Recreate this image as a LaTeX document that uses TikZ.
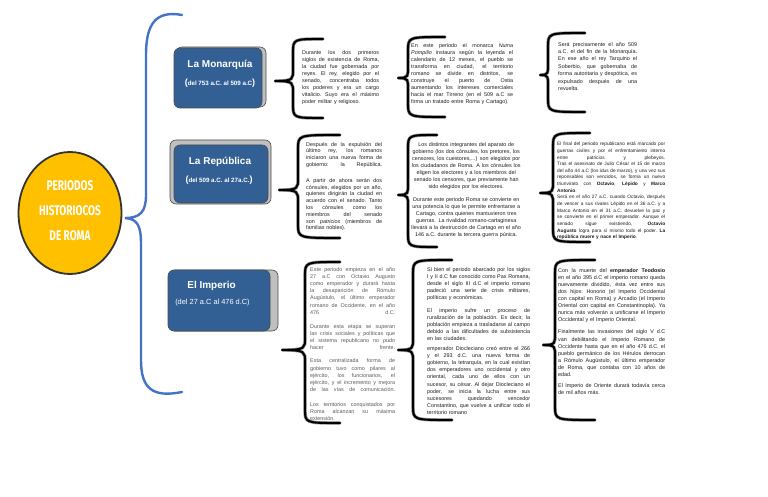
\documentclass[tikz,border=0pt]{standalone}
\usepackage{fontspec}
\setmainfont{Liberation Sans}
\newfontfamily\titlefont[FakeStretch=0.72]{Fira Sans}
\usetikzlibrary{shapes.geometric}
\definecolor{boxblue}{RGB}{50,96,148}
\definecolor{bracblue}{RGB}{68,114,196}
\definecolor{rootyellow}{RGB}{255,192,0}
\definecolor{txt}{RGB}{30,30,30}
\definecolor{txtlight}{RGB}{90,90,90}
\newlength\tw
\newcommand\jl[1]{\hbox to \tw{\spaceskip=0.26em plus 4em minus 0.04em\xspaceskip=0.3em plus 4em minus 0.04em #1}}
\newcommand\el[1]{\hbox{#1}}
\newcommand\pg[1]{\vskip #1\relax}
\newcommand\bigp[1]{{\fontsize{9}{9}\selectfont #1}}
% brace: #1 end x, #2 vertical x, #3 tip x, #4 top y, #5 tip y, #6 bottom y
\newcommand\cbr[6]{\draw[brc] (#1,#4) .. controls (#2,#4) and (#2,#4) .. (#2,#4+14) -- (#2,#5-12) .. controls (#2,#5-2) and (#2+1,#5) .. (#3,#5) .. controls (#2+1,#5) and (#2,#5+2) .. (#2,#5+12) -- (#2,#6-14) .. controls (#2,#6) and (#2,#6) .. (#1,#6);}
\begin{document}
\begin{tikzpicture}[x=1pt,y=-1pt,
  brc/.style={draw=black, line width=2.1pt, line cap=round, line join=round,
              preaction={draw=black!40, line width=3.4pt, line cap=round}},
  mainbrace/.style={draw=bracblue, line width=2.4pt, line cap=round},
  root/.style={ellipse, fill=rootyellow, draw=black!80, line width=1.8pt, inner sep=0pt},
  roottext/.style={align=center, text=white, font=\titlefont\bfseries\fontsize{14}{25}\selectfont},
  pbox/.style={rectangle, rounded corners=6pt, fill=boxblue, draw=black!70, line width=0.6pt, inner sep=0pt},
  shadowbox/.style={rectangle, rounded corners=6pt, fill=black!25, draw=black!70, line width=0.6pt, inner sep=0pt},
  ttl/.style={text=white, inner sep=0pt, font=\bfseries\fontsize{10}{12}\selectfont},
  subt/.style={text=white, inner sep=0pt, font=\bfseries\fontsize{6.2}{8}\selectfont},
  subtr/.style={text=white, inner sep=0pt, font=\fontsize{7.4}{9}\selectfont},
  body/.style={anchor=north west, inner sep=0pt, text=txt, text width=#1, execute at begin node={\setlength\tw{#1}}},
  bodyc/.style={anchor=north west, inner sep=0pt, align=center, text=txt, font=\fontsize{5.4}{7}\selectfont}
]
\useasboundingbox[fill=white] (0,0) rectangle (768,497);

% main blue brace
\draw[mainbrace] (182,15) .. controls (155,10) and (146,25) .. (146,55) -- (146,195) .. controls (146,212) and (140,218) .. (125,218) .. controls (138,219) and (141,226) .. (141,245) -- (141,360) .. controls (141,388) and (152,398) .. (182,392);

% root ellipse
\node[root, minimum width=103pt, minimum height=122pt] (root) at (70,213) {};
\node[roottext] (roottxt) at (70,211) {PERIODOS\\HISTORIOCOS\\DE ROMA};

% period boxes
\node[shadowbox, minimum width=90pt, minimum height=60pt] (monsh) at (221,77) {};
\node[pbox, minimum width=88pt, minimum height=60pt] (mon) at (218,78) {};
\node[ttl] (monT) at (220,65) {La Monarquía};
\node[subt] (monS) at (220,83) {\bigp{(}del 753 a.C. al 509 a.C\bigp{)}};

\node[shadowbox, minimum width=101pt, minimum height=64pt] (repsh) at (220.5,172) {};
\node[pbox, minimum width=94pt, minimum height=58pt] (rep) at (221,174) {};
\node[ttl] (repT) at (220,162) {La República};
\node[subt] (repS) at (219,180) {\bigp{(}del 509 a.C. al 27a.C.\bigp{)}};

\node[shadowbox, minimum width=109pt, minimum height=61pt] (impsh) at (223.5,300.5) {};
\node[pbox, minimum width=102pt, minimum height=61pt] (imp) at (219,300.5) {};
\node[ttl] (impT) at (211.5,286) {El Imperio};
\node[subtr] (impS) at (212.5,303) {(del 27 a.C al 476 d.C)};

% braces
\cbr{323}{293}{275}{39}{81}{118}
\cbr{445}{408}{398}{37}{78}{117}
\cbr{585}{548}{540}{33}{75}{112}
\cbr{340}{298}{279}{135}{190}{238}
\cbr{437}{408}{398}{135}{195}{247}
\cbr{590}{553}{540}{133}{193}{242}
\cbr{340}{305}{282}{262}{350}{423}
\cbr{452}{413}{398}{260}{350}{420}
\cbr{595}{555}{543}{260}{345}{420}

% Row 1 texts
\node[body=77pt, font=\fontsize{5.4}{7}\selectfont] (t11) at (302,50) {%
\vbox{\baselineskip=7pt
\jl{Durante los dos primeros}
\jl{siglos de existencia de Roma,}
\jl{la ciudad fue gobernada por}
\jl{reyes. El rey, elegido por el}
\jl{senado, concentraba todos}
\jl{los poderes y era un cargo}
\jl{vitalicio. Suyo era el máximo}
\el{poder militar y religioso.}}};

\node[body=102pt, font=\fontsize{5.4}{7}\selectfont] (t12) at (411,43) {%
\vbox{\baselineskip=7pt
\jl{En este periodo el monarca \textit{Numa}}
\jl{\textit{Pompilio} instaura según la leyenda el}
\jl{calendario de 12 meses, el pueblo se}
\jl{transforma en ciudad, el territorio}
\jl{romano se divide en distritos, se}
\jl{construye el puerto de Ostia}
\jl{aumentando los intereses comerciales}
\jl{hacia el mar Tirreno (en el 509 a.C se}
\el{firma un tratado entre Roma y Cartago).}}};

\node[body=79pt, font=\fontsize{5.4}{7.4}\selectfont] (t13) at (558,42) {%
\vbox{\baselineskip=7.4pt
\jl{Será precisamente el año 509}
\jl{a.C. el del fin de la Monarquía.}
\jl{En ese año el rey Tarquino el}
\jl{Soberbio, que gobernaba de}
\jl{forma autoritaria y despótica, es}
\jl{expulsado después de una}
\el{revuelta.}}};

% Row 2 texts
\node[body=76pt, font=\fontsize{5.4}{6.8}\selectfont] (t21) at (306,142) {%
\vbox{\baselineskip=6.8pt
\jl{Después de la expulsión del}
\jl{último rey, los romanos}
\jl{iniciaron una nueva forma de}
\jl{gobierno: la República.}
\pg{9pt}
\jl{A partir de ahora serán dos}
\jl{cónsules, elegidos por un año,}
\jl{quienes dirigirán la ciudad en}
\jl{acuerdo con el senado. Tanto}
\jl{los cónsules como los}
\jl{miembros del senado}
\jl{son \textit{patricios} (miembros de}
\el{familias nobles).}}};

\node[bodyc, text width=112pt] (t22) at (410,142.5) {%
Los distintos integrantes del aparato de\\
gobierno (los dos cónsules, los pretores, los\\
censores, los cuestores,...) son elegidos por\\
los ciudadanos de Roma. A los cónsules los\\
eligen los electores y a los miembros del\\
senado los censores, que previamente han\\
sido elegidos por los electores.\\[6pt]
Durante este periodo Roma se convierte en\\
una potencia lo que le permite enfrentarse a\\
Cartago, contra quienes mantuvieron tres\\
guerras. La rivalidad romano-cartaginesa\\
llevará a la destrucción de Cartago en el año\\
146 a.C. durante la tercera guerra púnica.};

\node[body=108pt, font=\fontsize{4.8}{6.65}\selectfont] (t23) at (557,142) {%
\vbox{\baselineskip=6.65pt
\jl{El final del periodo republicano está marcado por}
\jl{guerras civiles y por el enfrentamiento interno}
\jl{entre patricios y plebeyos.}
\jl{Tras el asesinato de Julio César el 15 de marzo}
\jl{del año 44 a.C (los idus de marzo), y una vez sus}
\jl{reponsables son vencidos, se forma un nuevo}
\jl{triunvirato con \textbf{Octavio}, \textbf{Lépido} y \textbf{Marco}}
\el{\textbf{Antonio}.}
\jl{Será en el año 27 a.C. cuando Octavio, después}
\jl{de vencer a sus rivales Lépido en el 36 a.C. y a}
\jl{Marco Antonio en el 31 a.C. devuelve la paz y}
\jl{se convierte en el primer emperador. Aunque el}
\jl{senado sigue existiendo, \textbf{Octavio}}
\jl{\textbf{Augusto} logra para sí mismo todo el poder. \textbf{La}}
\el{\textbf{república muere y nace el Imperio}.}}};

% Row 3 texts
\node[body=85pt, text=txtlight, font=\fontsize{5.4}{7.2}\selectfont] (t31) at (310,267) {%
\vbox{\baselineskip=7.2pt
\jl{Este periodo empieza en el año}
\jl{27 a.C con Octavio Augusto}
\jl{como emperador y durará hasta}
\jl{la desaparición de Rómulo}
\jl{Augústulo, el último emperador}
\jl{romano de Occidente, en el año}
\jl{476 d.C.}
\pg{6.5pt}
\jl{Durante esta etapa se superan}
\jl{las crisis sociales y políticas que}
\jl{el sistema republicano no pudo}
\jl{hacer frente.}
\pg{6pt}
\jl{Esta centralizada forma de}
\jl{gobierno tuvo como pilares al}
\jl{ejército, los funcionarios, el}
\jl{ejército, y el incremento y mejora}
\jl{de las vías de comunicación.}
\pg{7.5pt}
\jl{Los territorios conquistados por}
\jl{Roma alcanzan su máxima}
\el{extensión.}}};

\node[body=103pt, font=\fontsize{5.4}{7.2}\selectfont] (t32) at (427,267) {%
\vbox{\baselineskip=7.2pt
\jl{Si bien el periodo abarcado por los siglos}
\jl{I y II d.C fue conocido como Pax Romana,}
\jl{desde el siglo III d.C el imperio romano}
\jl{padeció una serie de crisis militares,}
\el{políticas y económicas.}
\pg{5pt}
\jl{El imperio sufre un proceso de}
\jl{ruralización de la población. Es decir, la}
\jl{población empieza a trasladarse al campo}
\jl{debido a las dificultades de subsistencia}
\el{en las ciudades.}
\pg{2pt}
\jl{emperador Diocleciano creó entre el 266}
\jl{y el 293 d.C. una nueva forma de}
\jl{gobierno, la tetrarquía, en la cual existían}
\jl{dos emperadores uno occidental y otro}
\jl{oriental, cada uno de ellos con un}
\jl{sucesor, su césar. Al dejar Diocleciano el}
\jl{poder, se inicia la lucha entre sus}
\jl{sucesores quedando vencedor}
\jl{Constantino, que vuelve a unificar todo el}
\el{territorio romano}}};

\node[body=107pt, font=\fontsize{5.4}{7.1}\selectfont] (t33) at (558,268) {%
\vbox{\baselineskip=7.1pt
\jl{Con la muerte del \textbf{emperador Teodosio}}
\jl{en el año 395 d.C el imperio romano queda}
\jl{nuevamente dividido, ésta vez entre sus}
\jl{dos hijos: Honorio (el Imperio Occidental}
\jl{con capital en Roma) y Arcadio (el Imperio}
\jl{Oriental con capital en Constantinopla). Ya}
\jl{nunca más volverán a unificarse el Imperio}
\el{Occidental y el Imperio Oriental.}
\pg{5pt}
\jl{Finalmente las invasiones del siglo V d.C}
\jl{van debilitando el Imperio Romano de}
\jl{Occidente hasta que en el año 476 d.C. el}
\jl{pueblo germánico de los Hérulos derrocan}
\jl{a Rómulo Augústulo, el último emperador}
\jl{de Roma, que contaba con 10 años de}
\el{edad.}
\pg{4pt}
\jl{El Imperio de Oriente durará todavía cerca}
\el{de mil años más.}}};

\end{tikzpicture}
\end{document}
